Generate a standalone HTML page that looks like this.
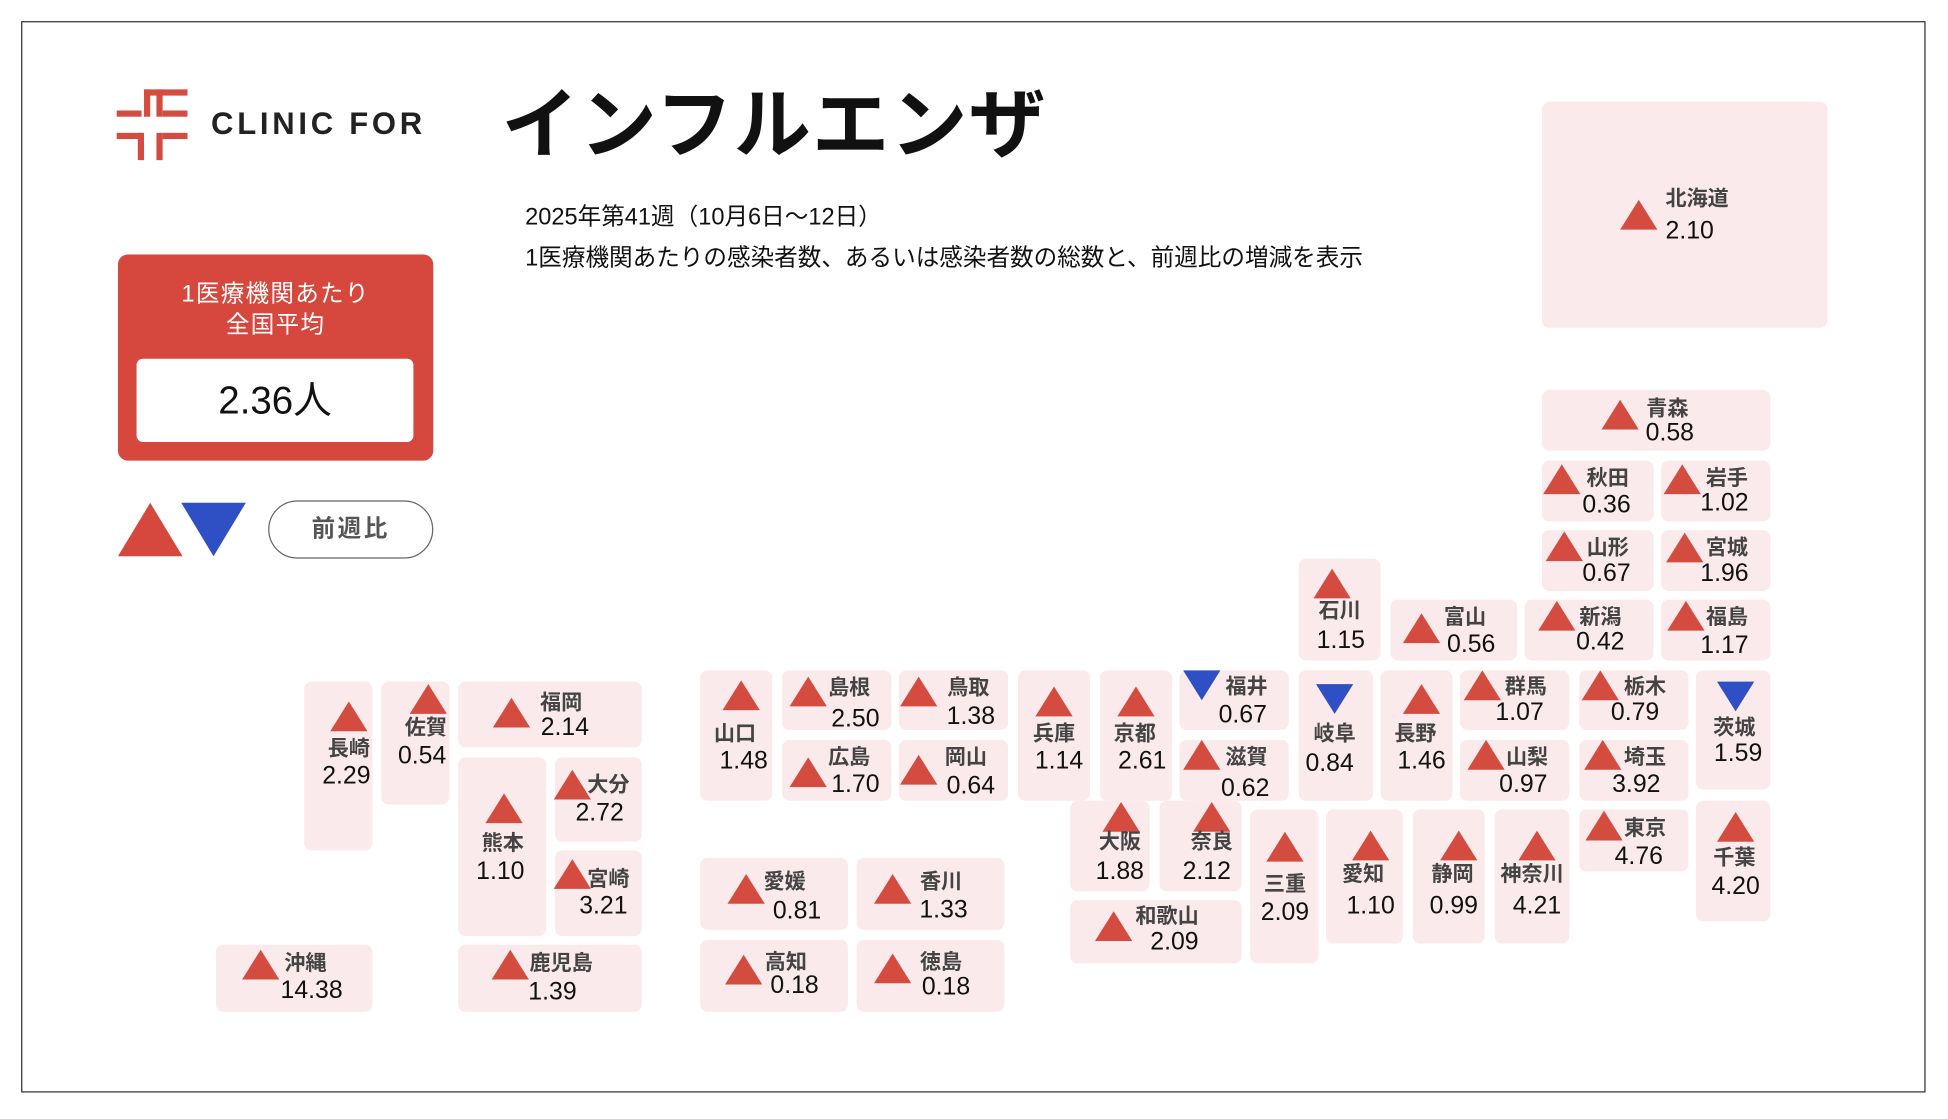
<!DOCTYPE html>
<html><head><meta charset="utf-8"><style>
html,body{margin:0;padding:0;background:#fff;width:1948px;height:1118px;overflow:hidden}
#s{position:absolute;left:0;top:0;width:1570px;height:901px;transform:scale(1.2415);transform-origin:0 0;font-family:"Liberation Sans","Noto Sans CJK JP",sans-serif}
.a{position:absolute}
.b{position:absolute;background:#fbeaeb;border-radius:6px}
.u,.d{position:absolute;width:0;height:0;transform:translate(-50%,-50%)}
.u{border-left:15px solid transparent;border-right:15px solid transparent;border-bottom:24px solid #d44c3f}
.d{border-left:15px solid transparent;border-right:15px solid transparent;border-top:24px solid #2f4fc4}
.n,.v{position:absolute;transform:translate(-50%,-50%);white-space:nowrap;line-height:1}
.n{font-size:17px;font-weight:bold;color:#444}
.v{font-size:20px;color:#111}
</style></head><body><div id="s">
<div class="a" style="left:17px;top:17px;width:1532px;height:861px;border:1.5px solid #333"></div>
<!-- logo -->
<div class="a" style="left:94px;top:89px;width:20px;height:5px;background:#d44c3f"></div>
<div class="a" style="left:94px;top:107px;width:20px;height:5px;background:#d44c3f"></div>
<div class="a" style="left:131px;top:89px;width:20px;height:5px;background:#d44c3f"></div>
<div class="a" style="left:131px;top:107px;width:20px;height:5px;background:#d44c3f"></div>
<div class="a" style="left:116px;top:72px;width:5px;height:22px;background:#d44c3f"></div>
<div class="a" style="left:116px;top:72px;width:35px;height:5px;background:#d44c3f"></div>
<div class="a" style="left:111px;top:107px;width:5px;height:22px;background:#d44c3f"></div>
<div class="a" style="left:126px;top:107px;width:5px;height:22px;background:#d44c3f"></div>
<div class="a" style="left:126px;top:72px;width:5px;height:22px;background:#d44c3f"></div>
<div class="a" style="left:170px;top:86px;font-size:25px;font-weight:bold;letter-spacing:3px;color:#222">CLINIC FOR</div>
<div class="a" style="left:404px;top:50px;font-size:62px;font-weight:bold;color:#111;letter-spacing:1px">インフルエンザ</div>
<div class="a" style="left:423px;top:160px;font-size:19px;color:#111">2025年第41週（10月6日〜12日）</div>
<div class="a" style="left:423px;top:193px;font-size:19px;color:#111">1医療機関あたりの感染者数、あるいは感染者数の総数と、前週比の増減を表示</div>
<!-- summary -->
<div class="a" style="left:95px;top:205px;width:254px;height:166px;background:#d6483d;border-radius:8px"></div>
<div class="a" style="left:95px;top:225px;width:254px;text-align:center;color:#fff;font-size:19px;line-height:25px;letter-spacing:1px">1医療機関あたり<br>全国平均</div>
<div class="a" style="left:110px;top:289px;width:223px;height:67px;background:#fff;border-radius:5px;text-align:center;font-size:31px;line-height:67px;color:#111">2.36人</div>
<div class="a" style="left:95px;top:405px;width:0;height:0;border-left:26px solid transparent;border-right:26px solid transparent;border-bottom:43px solid #d6483d"></div>
<div class="a" style="left:146px;top:405px;width:0;height:0;border-left:26px solid transparent;border-right:26px solid transparent;border-top:43px solid #2f4fc4"></div>
<div class="a" style="left:216px;top:403px;width:131px;height:45px;border:1.5px solid #666;border-radius:24px;text-align:center;line-height:45px;font-size:19px;font-weight:bold;color:#555;letter-spacing:2px">前週比</div>

<!-- boxes -->
<div class="b" style="left:1242px;top:82px;width:230px;height:182px"></div>
<div class="b" style="left:1242px;top:314px;width:184px;height:49px"></div>
<div class="b" style="left:1242px;top:371px;width:90px;height:49px"></div>
<div class="b" style="left:1338px;top:371px;width:88px;height:49px"></div>
<div class="b" style="left:1242px;top:427px;width:90px;height:49px"></div>
<div class="b" style="left:1338px;top:427px;width:88px;height:49px"></div>
<div class="b" style="left:1228px;top:483px;width:104px;height:49px"></div>
<div class="b" style="left:1338px;top:483px;width:88px;height:49px"></div>
<div class="b" style="left:1120px;top:483px;width:102px;height:49px"></div>
<div class="b" style="left:1046px;top:450px;width:66px;height:82px"></div>
<div class="b" style="left:950px;top:540px;width:88px;height:48px"></div>
<div class="b" style="left:950px;top:596px;width:88px;height:49px"></div>
<div class="b" style="left:1046px;top:540px;width:60px;height:105px"></div>
<div class="b" style="left:1112px;top:540px;width:58px;height:105px"></div>
<div class="b" style="left:1176px;top:540px;width:88px;height:48px"></div>
<div class="b" style="left:1176px;top:596px;width:88px;height:49px"></div>
<div class="b" style="left:1272px;top:540px;width:88px;height:48px"></div>
<div class="b" style="left:1272px;top:596px;width:88px;height:49px"></div>
<div class="b" style="left:1366px;top:540px;width:60px;height:96px"></div>
<div class="b" style="left:1272px;top:652px;width:88px;height:50px"></div>
<div class="b" style="left:1366px;top:645px;width:60px;height:97px"></div>
<div class="b" style="left:1204px;top:652px;width:60px;height:108px"></div>
<div class="b" style="left:1138px;top:652px;width:58px;height:108px"></div>
<div class="b" style="left:1068px;top:652px;width:62px;height:108px"></div>
<div class="b" style="left:1007px;top:652px;width:55px;height:124px"></div>
<div class="b" style="left:934px;top:645px;width:66px;height:73px"></div>
<div class="b" style="left:862px;top:645px;width:64px;height:73px"></div>
<div class="b" style="left:862px;top:725px;width:138px;height:51px"></div>
<div class="b" style="left:886px;top:540px;width:58px;height:105px"></div>
<div class="b" style="left:820px;top:540px;width:58px;height:105px"></div>
<div class="b" style="left:724px;top:540px;width:88px;height:48px"></div>
<div class="b" style="left:724px;top:596px;width:88px;height:49px"></div>
<div class="b" style="left:630px;top:540px;width:88px;height:48px"></div>
<div class="b" style="left:630px;top:596px;width:88px;height:49px"></div>
<div class="b" style="left:564px;top:540px;width:58px;height:105px"></div>
<div class="b" style="left:564px;top:691px;width:119px;height:58px"></div>
<div class="b" style="left:690px;top:691px;width:119px;height:58px"></div>
<div class="b" style="left:564px;top:757px;width:119px;height:58px"></div>
<div class="b" style="left:690px;top:757px;width:119px;height:58px"></div>
<div class="b" style="left:369px;top:549px;width:148px;height:53px"></div>
<div class="b" style="left:307px;top:549px;width:55px;height:99px"></div>
<div class="b" style="left:245px;top:549px;width:55px;height:136px"></div>
<div class="b" style="left:369px;top:610px;width:71px;height:144px"></div>
<div class="b" style="left:447px;top:610px;width:70px;height:68px"></div>
<div class="b" style="left:447px;top:685px;width:70px;height:69px"></div>
<div class="b" style="left:369px;top:761px;width:148px;height:54px"></div>
<div class="b" style="left:174px;top:761px;width:126px;height:54px"></div>

<!-- markers & labels -->
<div class="u" style="left:1320px;top:173px"></div><div class="n" style="left:1367px;top:160px">北海道</div><div class="v" style="left:1361px;top:186px">2.10</div>
<div class="u" style="left:1305px;top:334px"></div><div class="n" style="left:1343px;top:329px">青森</div><div class="v" style="left:1345px;top:349px">0.58</div>
<div class="u" style="left:1258px;top:386px"></div><div class="n" style="left:1295px;top:385px">秋田</div><div class="v" style="left:1294px;top:407px">0.36</div>
<div class="u" style="left:1355px;top:386px"></div><div class="n" style="left:1391px;top:385px">岩手</div><div class="v" style="left:1389px;top:405px">1.02</div>
<div class="u" style="left:1260px;top:440px"></div><div class="n" style="left:1295px;top:441px">山形</div><div class="v" style="left:1294px;top:462px">0.67</div>
<div class="u" style="left:1357px;top:441px"></div><div class="n" style="left:1391px;top:441px">宮城</div><div class="v" style="left:1389px;top:462px">1.96</div>
<div class="u" style="left:1254px;top:496px"></div><div class="n" style="left:1289px;top:497px">新潟</div><div class="v" style="left:1289px;top:517px">0.42</div>
<div class="u" style="left:1358px;top:496px"></div><div class="n" style="left:1391px;top:497px">福島</div><div class="v" style="left:1389px;top:520px">1.17</div>
<div class="u" style="left:1145px;top:506px"></div><div class="n" style="left:1180px;top:497px">富山</div><div class="v" style="left:1185px;top:519px">0.56</div>
<div class="u" style="left:1073px;top:470px"></div><div class="n" style="left:1079px;top:492px">石川</div><div class="v" style="left:1080px;top:516px">1.15</div>
<div class="d" style="left:968px;top:552px"></div><div class="n" style="left:1004px;top:553px">福井</div><div class="v" style="left:1001px;top:576px">0.67</div>
<div class="u" style="left:968px;top:608px"></div><div class="n" style="left:1004px;top:610px">滋賀</div><div class="v" style="left:1003px;top:635px">0.62</div>
<div class="d" style="left:1075px;top:563px"></div><div class="n" style="left:1075px;top:591px">岐阜</div><div class="v" style="left:1071px;top:615px">0.84</div>
<div class="u" style="left:1145px;top:563px"></div><div class="n" style="left:1140px;top:591px">長野</div><div class="v" style="left:1145px;top:613px">1.46</div>
<div class="u" style="left:1194px;top:552px"></div><div class="n" style="left:1229px;top:553px">群馬</div><div class="v" style="left:1224px;top:574px">1.07</div>
<div class="u" style="left:1197px;top:608px"></div><div class="n" style="left:1230px;top:610px">山梨</div><div class="v" style="left:1227px;top:632px">0.97</div>
<div class="u" style="left:1289px;top:552px"></div><div class="n" style="left:1325px;top:553px">栃木</div><div class="v" style="left:1317px;top:574px">0.79</div>
<div class="u" style="left:1291px;top:608px"></div><div class="n" style="left:1325px;top:610px">埼玉</div><div class="v" style="left:1318px;top:632px">3.92</div>
<div class="d" style="left:1398px;top:561px"></div><div class="n" style="left:1397px;top:586px">茨城</div><div class="v" style="left:1400px;top:607px">1.59</div>
<div class="u" style="left:1292px;top:665px"></div><div class="n" style="left:1325px;top:667px">東京</div><div class="v" style="left:1320px;top:690px">4.76</div>
<div class="u" style="left:1398px;top:666px"></div><div class="n" style="left:1397px;top:691px">千葉</div><div class="v" style="left:1398px;top:714px">4.20</div>
<div class="u" style="left:1238px;top:681px"></div><div class="n" style="left:1234px;top:704px">神奈川</div><div class="v" style="left:1238px;top:730px">4.21</div>
<div class="u" style="left:1175px;top:681px"></div><div class="n" style="left:1170px;top:704px">静岡</div><div class="v" style="left:1171px;top:730px">0.99</div>
<div class="u" style="left:1104px;top:681px"></div><div class="n" style="left:1098px;top:704px">愛知</div><div class="v" style="left:1104px;top:730px">1.10</div>
<div class="u" style="left:1035px;top:682px"></div><div class="n" style="left:1035px;top:712px">三重</div><div class="v" style="left:1035px;top:735px">2.09</div>
<div class="u" style="left:976px;top:658px"></div><div class="n" style="left:976px;top:678px">奈良</div><div class="v" style="left:972px;top:702px">2.12</div>
<div class="u" style="left:903px;top:658px"></div><div class="n" style="left:902px;top:678px">大阪</div><div class="v" style="left:902px;top:702px">1.88</div>
<div class="u" style="left:897px;top:746px"></div><div class="n" style="left:940px;top:738px">和歌山</div><div class="v" style="left:946px;top:759px">2.09</div>
<div class="u" style="left:915px;top:565px"></div><div class="n" style="left:914px;top:591px">京都</div><div class="v" style="left:920px;top:613px">2.61</div>
<div class="u" style="left:849px;top:565px"></div><div class="n" style="left:849px;top:591px">兵庫</div><div class="v" style="left:853px;top:613px">1.14</div>
<div class="u" style="left:740px;top:557px"></div><div class="n" style="left:780px;top:554px">鳥取</div><div class="v" style="left:782px;top:577px">1.38</div>
<div class="u" style="left:740px;top:620px"></div><div class="n" style="left:778px;top:610px">岡山</div><div class="v" style="left:782px;top:633px">0.64</div>
<div class="u" style="left:651px;top:557px"></div><div class="n" style="left:684px;top:554px">島根</div><div class="v" style="left:689px;top:579px">2.50</div>
<div class="u" style="left:651px;top:622px"></div><div class="n" style="left:684px;top:610px">広島</div><div class="v" style="left:689px;top:632px">1.70</div>
<div class="u" style="left:597px;top:560px"></div><div class="n" style="left:592px;top:591px">山口</div><div class="v" style="left:599px;top:613px">1.48</div>
<div class="u" style="left:601px;top:716px"></div><div class="n" style="left:632px;top:710px">愛媛</div><div class="v" style="left:642px;top:734px">0.81</div>
<div class="u" style="left:719px;top:716px"></div><div class="n" style="left:758px;top:710px">香川</div><div class="v" style="left:760px;top:733px">1.33</div>
<div class="u" style="left:599px;top:781px"></div><div class="n" style="left:633px;top:775px">高知</div><div class="v" style="left:640px;top:794px">0.18</div>
<div class="u" style="left:719px;top:780px"></div><div class="n" style="left:758px;top:775px">徳島</div><div class="v" style="left:762px;top:795px">0.18</div>
<div class="u" style="left:412px;top:574px"></div><div class="n" style="left:452px;top:566px">福岡</div><div class="v" style="left:455px;top:586px">2.14</div>
<div class="u" style="left:345px;top:563px"></div><div class="n" style="left:343px;top:586px">佐賀</div><div class="v" style="left:340px;top:609px">0.54</div>
<div class="u" style="left:281px;top:577px"></div><div class="n" style="left:281px;top:603px">長崎</div><div class="v" style="left:279px;top:625px">2.29</div>
<div class="u" style="left:406px;top:651px"></div><div class="n" style="left:405px;top:679px">熊本</div><div class="v" style="left:403px;top:702px">1.10</div>
<div class="u" style="left:461px;top:632px"></div><div class="n" style="left:490px;top:632px">大分</div><div class="v" style="left:483px;top:655px">2.72</div>
<div class="u" style="left:461px;top:704px"></div><div class="n" style="left:490px;top:708px">宮崎</div><div class="v" style="left:486px;top:730px">3.21</div>
<div class="u" style="left:411px;top:777px"></div><div class="n" style="left:452px;top:776px">鹿児島</div><div class="v" style="left:445px;top:799px">1.39</div>
<div class="u" style="left:210px;top:777px"></div><div class="n" style="left:246px;top:776px">沖縄</div><div class="v" style="left:251px;top:798px">14.38</div>
</div></body></html>
